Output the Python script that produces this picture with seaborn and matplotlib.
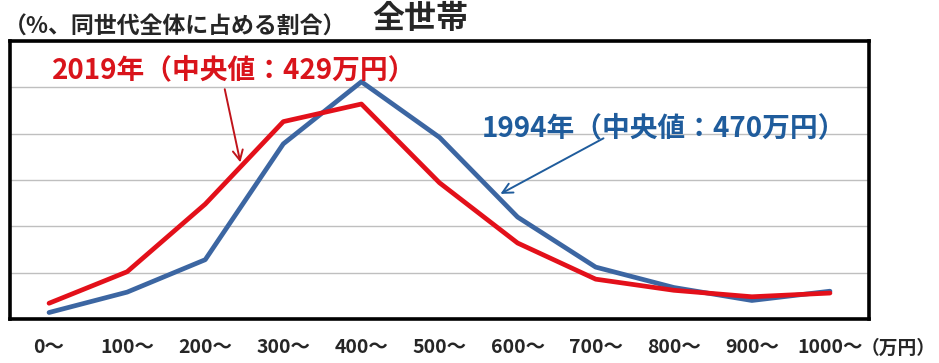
import numpy as np
import pandas as pd
import matplotlib
matplotlib.use("Agg")
import matplotlib.pyplot as plt
import seaborn as sns

# data (share of households, %)
brackets = ["0〜", "100〜", "200〜", "300〜", "400〜", "500〜",
            "600〜", "700〜", "800〜", "900〜", "1000〜"]
share_1994 = [0.7, 2.9, 6.4, 18.9, 25.6, 19.6, 11.0, 5.6, 3.4, 2.0, 3.0]
share_2019 = [1.7, 5.1, 12.4, 21.3, 23.2, 14.7, 8.2, 4.3, 3.1, 2.4, 2.8]
years = ["1994年", "2019年"]
colors = ["#3C66A2", "#E3101A"]

df = pd.DataFrame({
    "pos": list(range(len(brackets))) * 2,
    "share": share_1994 + share_2019,
    "year": [years[0]] * len(brackets) + [years[1]] * len(brackets),
})

sns.set_style("white")
plt.rcParams["font.family"] = ["Noto Sans CJK JP", "DejaVu Sans"]

fig = plt.figure(figsize=(9.39, 3.63), dpi=100)
W, H = 939, 363
ax = fig.add_axes([10 / W, 1 - 319 / H, (869 - 10) / W, (319 - 41) / H])

sns.lineplot(data=df, x="pos", y="share", hue="year", hue_order=years,
             palette=colors, linewidth=3.4, legend=False, ax=ax, sort=False)

ax.set_xlim(-0.5, len(brackets) - 0.5)
ax.set_ylim(0, 30)
ax.set_yticks(np.arange(0, 31, 5))
ax.set_yticklabels([])
ax.yaxis.grid(True, color="#BFBFBF", linewidth=1.0)
ax.tick_params(axis="y", length=0)

# labels under categories, tick marks between them
ax.set_xticks(range(len(brackets)))
ax.set_xticklabels(brackets, fontsize=14, fontweight="bold")
ax.set_xticks(np.arange(0.5, len(brackets) - 1, 1), minor=True)
ax.tick_params(axis="x", which="major", length=0, pad=14)
ax.tick_params(axis="x", which="minor", direction="in", length=6, width=1.3,
               color="black")
ax.set_xlabel("")
ax.set_ylabel("")

for s in ax.spines.values():
    s.set_visible(True)
    s.set_color("black")
    s.set_linewidth(2.6)

fig.text(936 / W, 1 - 348 / H, "（万円）", fontsize=13.5, fontweight="bold",
         va="center", ha="right")
fig.text(4 / W, 1 - 27 / H, "（%、同世代全体に占める割合）", fontsize=16.5,
         fontweight="bold", va="center", ha="left")
fig.text(420 / W, 1 - 19 / H, "全世帯", fontsize=23, fontweight="bold",
         va="center", ha="center")

# series annotations
ax.text(52 / W, 1 - 70 / H, "2019年（中央値：429万円）",
        transform=fig.transFigure, fontsize=20, fontweight="bold",
        color="#D9141B", va="center", ha="left")
ax.annotate("", xy=(2.45, 16.9), xycoords="data",
            xytext=(2.25, 24.8), textcoords="data",
            arrowprops=dict(arrowstyle="->", color="#C0141B", lw=1.4,
                            mutation_scale=18, shrinkA=0, shrinkB=0))
ax.text(482 / W, 1 - 128 / H, "1994年（中央値：470万円）",
        transform=fig.transFigure, fontsize=20, fontweight="bold",
        color="#1F5C9C", va="center", ha="left")
ax.annotate("", xy=(5.78, 13.5), xycoords="data",
            xytext=(7.1, 19.5), textcoords="data",
            arrowprops=dict(arrowstyle="->", color="#1F5C9C", lw=1.4,
                            mutation_scale=18, shrinkA=0, shrinkB=0))

fig.savefig("out.png", dpi=100)
